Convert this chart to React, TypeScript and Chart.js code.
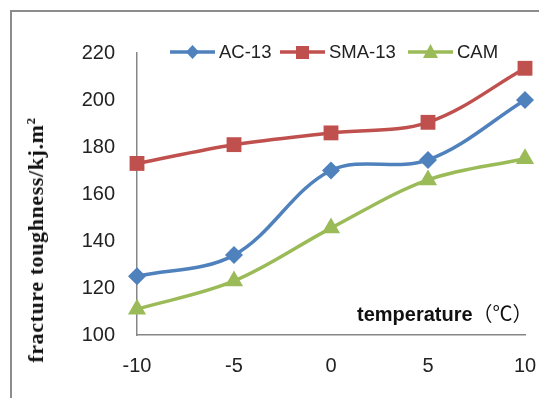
import React, { useEffect, useRef } from "react";
import { Chart, registerables } from "chart.js";

Chart.register(...registerables);

const temperatures = [-10, -5, 0, 5, 10];
const ac13 = [125, 134, 170, 174.5, 200];
const sma13 = [173, 181, 186, 190.5, 213.5];
const cam = [111, 123, 145.5, 166, 175];
const xTicks = [-10, -5, 0, 5, 10];
const yTicks = [100, 120, 140, 160, 180, 200, 220];

const BLUE = "#4F81BD";
const RED = "#C0504D";
const GREEN = "#9BBB59";
const AXIS = "#868686";

function LegendIcon({ color, shape }: { color: string; shape: string }) {
  let marker: any = null;
  if (shape === "diamond") {
    marker = <polygon points="22.5,1 29,8 22.5,15 16,8" fill={color} />;
  } else if (shape === "square") {
    marker = <rect x="16" y="2" width="13" height="13" fill={color} />;
  } else {
    marker = <polygon points="22.5,0 30,14 15,14" fill={color} />;
  }
  return (
    <svg width="45" height="16" style={{ display: "block" }}>
      <line x1="0" y1="8" x2="45" y2="8" stroke={color} strokeWidth="3.5" />
      {marker}
    </svg>
  );
}

export default function App() {
  const ref = useRef<HTMLCanvasElement | null>(null);

  useEffect(() => {
    if (!ref.current) return;
    const mk = (label: string, data: number[], color: string, style: any, radius: number) => ({
      label,
      data: temperatures.map((t, i) => ({ x: t, y: data[i] })),
      borderColor: color,
      backgroundColor: color,
      borderWidth: 3.5,
      pointStyle: style,
      pointRadius: radius,
      pointBorderWidth: 0,
      pointBackgroundColor: color,
      tension: 0.35,
      clip: false as any,
    });
    const chart = new Chart(ref.current, {
      type: "line",
      data: {
        datasets: [
          mk("AC-13", ac13, BLUE, "rectRot", 9),
          mk("SMA-13", sma13, RED, "rect", 10.5),
          mk("CAM", cam, GREEN, "triangle", 10.5),
        ],
      },
      options: {
        responsive: false,
        animation: false,
        layout: { padding: { left: 77, top: 53, right: 14, bottom: 0 } },
        plugins: { legend: { display: false }, tooltip: { enabled: false } },
        scales: {
          x: {
            type: "linear",
            min: -10,
            max: 10,
            afterBuildTicks: (s: any) => {
              s.ticks = xTicks.map((v) => ({ value: v }));
            },
            afterFit: (s: any) => {
              s.height = 63;
              s.paddingLeft = 0;
              s.paddingRight = 0;
            },
            grid: { display: true, drawOnChartArea: false, drawTicks: false },
            border: { display: true, color: AXIS, width: 1.5 },
            ticks: {
              padding: 19,
              color: "#222",
              font: { family: "'Liberation Sans', Arial, sans-serif", size: 20 },
            },
          },
          y: {
            type: "linear",
            min: 100,
            max: 220,
            afterBuildTicks: (s: any) => {
              s.ticks = yTicks.map((v) => ({ value: v }));
            },
            afterFit: (s: any) => {
              s.width = 60;
              s.paddingTop = 0;
              s.paddingBottom = 0;
            },
            grid: { display: true, drawOnChartArea: false, drawTicks: false },
            border: { display: true, color: AXIS, width: 1.5 },
            ticks: {
              padding: 22,
              color: "#222",
              font: { family: "'Liberation Sans', Arial, sans-serif", size: 20 },
            },
          },
        },
      },
    });
    return () => chart.destroy();
  }, []);

  const legendItems = [
    { label: "AC-13", color: BLUE, shape: "diamond", x: 170 },
    { label: "SMA-13", color: RED, shape: "square", x: 280 },
    { label: "CAM", color: GREEN, shape: "triangle", x: 408 },
  ];

  return (
    <div
      style={{
        position: "fixed",
        left: 0,
        top: 0,
        width: 539,
        height: 398,
        background: "#fff",
        overflow: "hidden",
      }}
    >
      <div
        style={{
          position: "absolute",
          left: 10,
          top: 10,
          width: 540,
          height: 400,
          borderLeft: "2px solid #8c8c8c",
          borderTop: "2px solid #8c8c8c",
        }}
      />
      <canvas ref={ref} width={539} height={398} style={{ position: "absolute", left: 0, top: 0 }} />
      {legendItems.map((it) => (
        <div
          key={it.label}
          style={{
            position: "absolute",
            left: it.x,
            top: 40,
            display: "flex",
            alignItems: "center",
            fontFamily: "'Liberation Sans', Arial, sans-serif",
            fontSize: 18.5,
            color: "#222",
            whiteSpace: "nowrap",
            height: 24,
          }}
        >
          <LegendIcon color={it.color} shape={it.shape} />
          <span style={{ marginLeft: 4 }}>{it.label}</span>
        </div>
      ))}
      <div
        style={{
          position: "absolute",
          left: 357,
          top: 299,
          fontFamily: "'Liberation Sans', Arial, 'Noto Sans CJK SC', sans-serif",
          fontWeight: "bold",
          fontSize: 20,
          color: "#111",
          whiteSpace: "nowrap",
          lineHeight: "28px",
        }}
      >
        temperature
        <span style={{ fontFamily: "'Noto Sans CJK SC', sans-serif", fontWeight: "normal", fontSize: 20 }}>（℃）</span>
      </div>
      <div
        style={{
          position: "absolute",
          left: 36,
          top: 240,
          transform: "translate(-50%, -50%) rotate(-90deg)",
          fontFamily: "'Liberation Serif', 'Times New Roman', serif",
          fontWeight: "bold",
          fontSize: 22,
          letterSpacing: 0.6,
          color: "#111",
          whiteSpace: "nowrap",
        }}
      >
        fracture toughness/kj.m<sup style={{ fontSize: 13, verticalAlign: "super", lineHeight: 0 }}>2</sup>
      </div>
    </div>
  );
}
